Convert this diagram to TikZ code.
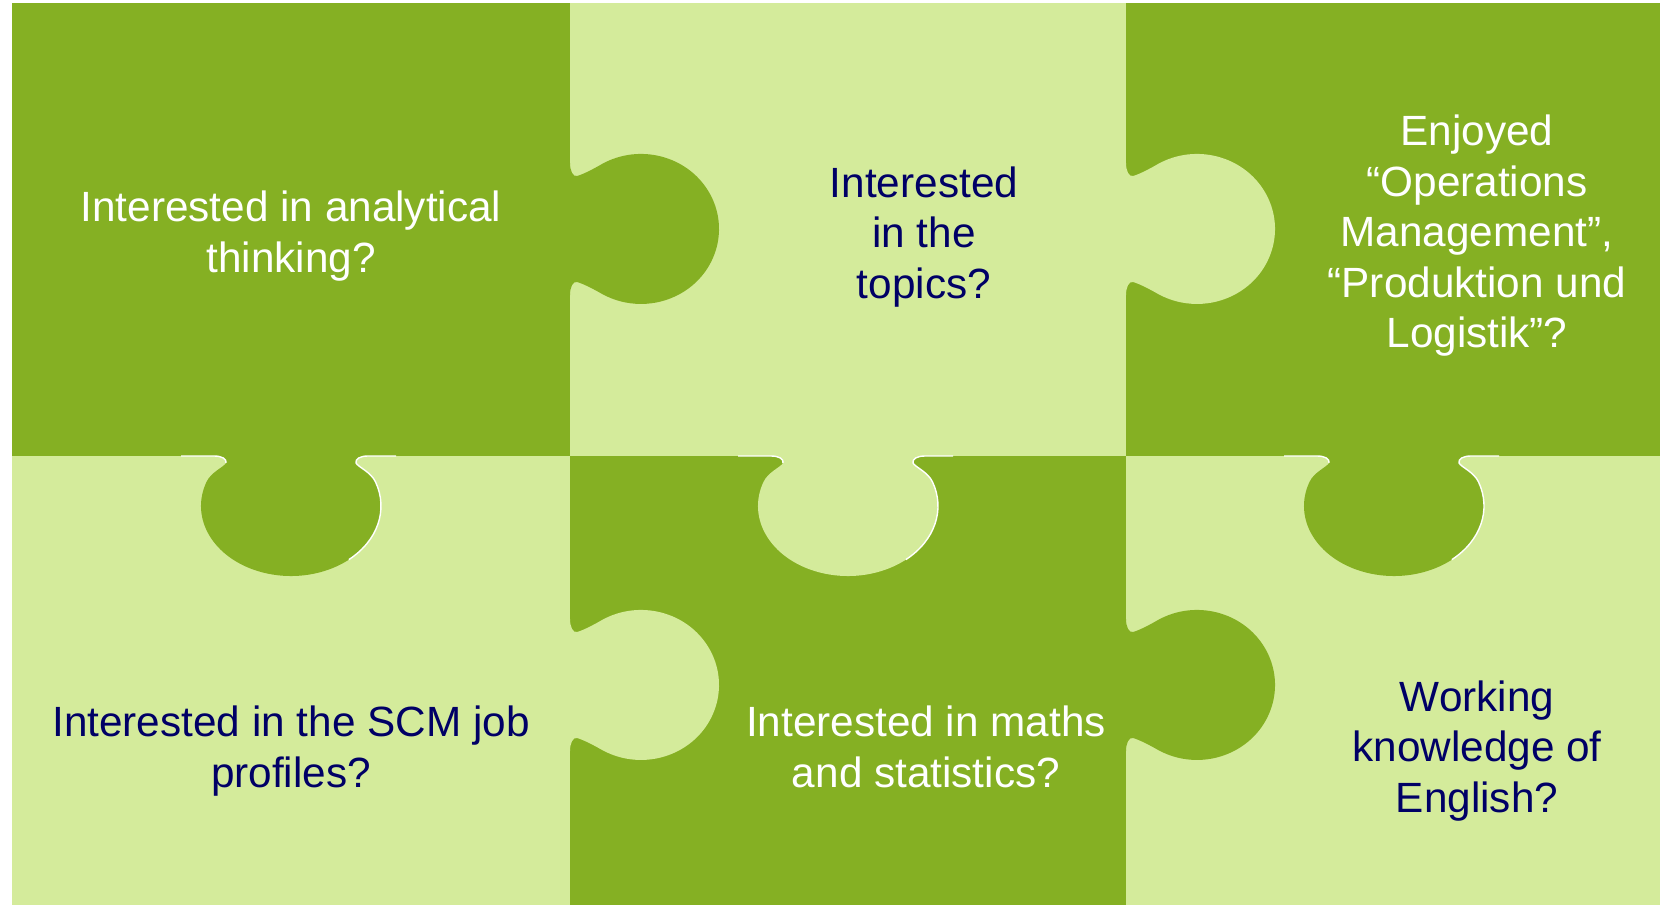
\documentclass[tikz,border=0pt]{standalone}
\usepackage{fontspec}
\setmainfont{Liberation Sans}
\definecolor{pdark}{RGB}{133,176,35}
\definecolor{plight}{RGB}{212,235,155}
\definecolor{pnavy}{RGB}{0,0,102}
\tikzset{
  darkfill/.style={fill=pdark},
  lightfill/.style={fill=plight},
  ontext/.style={font=\fontsize{42.3}{50.5}\selectfont, align=center, inner sep=0pt},
  wtext/.style={ontext, text=white},
  ntext/.style={ontext, text=pnavy},
  hknob/.pic={
    \fill[pic actions] (-2,-66) -- (0,-66) .. controls (0,-58) and (3,-52) .. (7,-53)
      .. controls (11,-54) and (20,-58) .. (32,-65)
      arc[start angle=-120, end angle=120, x radius=78, y radius=75]
      .. controls (20,58) and (11,54) .. (7,53)
      .. controls (3,52) and (0,58) .. (0,66) -- (-2,66) -- cycle;
  },
  vknob/.pic={
    \fill[pic actions] (-77,-2) -- (-77,0) .. controls (-69,0) and (-64,3) .. (-65,7)
      .. controls (-67,11) and (-80,16) .. (-84.57,26.06)
      arc[start angle=200, end angle=-20, x radius=90, y radius=70]
      .. controls (80,16) and (67,11) .. (65,7)
      .. controls (64,3) and (69,0) .. (77,0) -- (77,-2) -- cycle;
  },
  vhl/.pic={
    \draw[white, line width=1.4pt] (-110,0) -- (-77,0) .. controls (-69,0) and (-64,3) .. (-65,7);
    \draw[white, line width=1.4pt] (57.85,103.6) arc[start angle=50, end angle=-20, x radius=90, y radius=70]
      .. controls (80,16) and (67,11) .. (65,7)
      .. controls (64,3) and (69,0) .. (77,0) -- (105,0);
  },
}
\begin{document}
\begin{tikzpicture}[x=1pt, y=-1pt]
  \useasboundingbox[fill=white] (0,0) rectangle (1660,905);
  % pieces
  \fill[darkfill]  (12,3) rectangle (570,456);
  \fill[lightfill] (570,3) rectangle (1126,456);
  \fill[darkfill]  (1126,3) rectangle (1660,456);
  \fill[lightfill] (12,456) rectangle (570,905);
  \fill[darkfill]  (570,456) rectangle (1126,905);
  \fill[lightfill] (1126,456) rectangle (1660,905);
  % horizontal tabs
  \pic[fill=pdark]  at (570,229) {hknob};
  \pic[fill=plight] at (1126,229) {hknob};
  \pic[fill=plight] at (570,685) {hknob};
  \pic[fill=pdark]  at (1126,685) {hknob};
  % vertical tabs
  \pic[fill=pdark]  at (291,456) {vknob};
  \pic[fill=plight] at (848,456) {vknob};
  \pic[fill=pdark]  at (1394,456) {vknob};
  \pic at (291,456) {vhl};
  \pic at (848,456) {vhl};
  \pic at (1394,456) {vhl};
  % texts
  \node[wtext] (tl) at (291,236) {Interested in analytical\\thinking?};
  \node[ntext] (tm) at (924,237) {Interested\\in the\\topics?};
  \node[wtext] (tr) at (1477,236) {Enjoyed\\“Operations\\Management”,\\“Produktion und\\Logistik”?};
  \node[ntext] (bl) at (291,751) {Interested in the SCM job\\profiles?};
  \node[wtext] (bm) at (926,747) {Interested in maths\\and statistics?};
  \node[ntext] (br) at (1477,751) {Working\\knowledge of\\English?};
\end{tikzpicture}
\end{document}
